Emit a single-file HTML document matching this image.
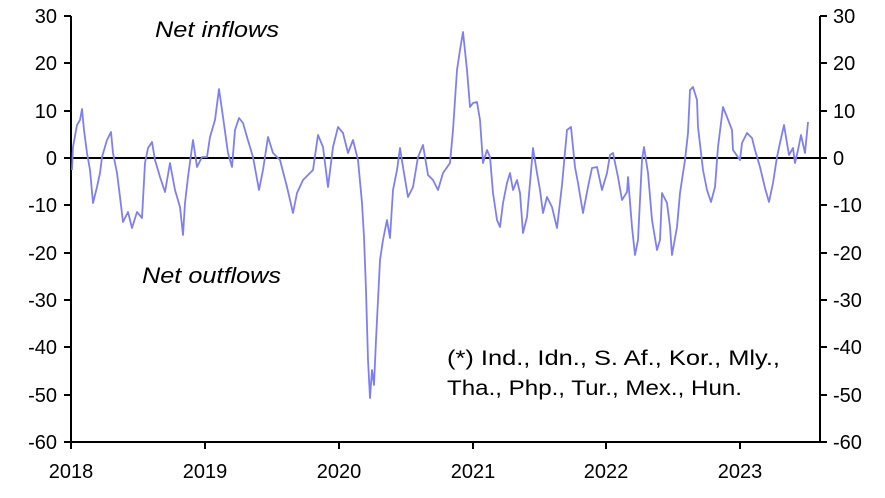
<!DOCTYPE html>
<html><head><style>
body{margin:0;background:#fff;}
svg{display:block;font-family:"Liberation Sans",Arial,sans-serif;}
</style></head><body>
<svg width="885" height="498" viewBox="0 0 885 498">
<g stroke="#000" stroke-width="2" fill="none">
<line x1="71" y1="16" x2="71" y2="442"/>
<line x1="820" y1="16" x2="820" y2="442"/>
<line x1="70" y1="442" x2="821" y2="442"/>
<line x1="71" y1="158" x2="820" y2="158"/>
<path d="M64 16H71M64 63H71M64 111H71M64 158H71M64 205H71M64 253H71M64 300H71M64 347H71M64 395H71M64 442H71"/>
<path d="M820 16H827M820 63H827M820 111H827M820 158H827M820 205H827M820 253H827M820 300H827M820 347H827M820 395H827M820 442H827"/>
<path d="M71 442V449M205 442V449M339 442V449M473 442V449M606 442V449M740 442V449"/>
</g>
<polyline fill="none" stroke="#7f7ff5" stroke-width="1.8" stroke-linejoin="round" points="72,170 73,147 77,125 80,120 82,109 84,130 87,153 90,170 93,203 97,187 100,173 102,157 107,140 111,132 113,153 117,173 120,197 123,222 128,212 132,228 137,212 142,218 145,163 148,148 152,142 155,160 160,177 165,192 170,163 175,190 180,207 183,235 185,203 188,177 193,140 197,167 202,157 207,157 210,137 215,120 219,89 223,117 228,153 232,167 235,130 239,118 243,123 247,137 253,157 259,190 263,170 268,137 273,153 280,160 287,187 293,213 297,193 303,180 313,170 318,135 323,147 328,187 333,147 338,127 343,133 348,153 353,140 358,160 362,203 364,237 366,290 368,360 370,398 372,370 374,385 376,340 378,300 380,260 383,240 387,220 390,238 393,190 397,170 400,148 403,167 408,197 413,187 418,157 423,145 428,175 433,180 438,190 443,173 450,163 453,130 457,70 460,50 463,32 467,70 470,107 473,103 477,102 480,120 483,163 487,150 490,157 493,193 497,220 500,227 503,203 507,183 510,173 513,190 517,180 520,193 523,233 527,217 530,183 533,148 537,173 540,190 543,213 547,197 552,207 557,228 562,185 567,130 571,127 575,167 578,183 583,213 588,187 592,168 597,167 602,190 607,173 610,155 613,153 618,177 622,200 627,192 628,177 632,227 635,255 638,240 642,160 644,147 648,173 652,220 657,250 660,240 662,193 667,203 670,227 672,255 677,227 680,193 685,160 688,133 690,90 693,87 697,100 698,127 703,170 707,190 711,202 715,187 718,147 723,107 727,117 732,130 733,150 740,160 742,143 747,133 752,138 755,150 760,167 765,188 769,202 773,183 777,157 780,143 784,125 787,143 789,155 793,148 795,163 798,150 801,135 805,153 808,122"/>
<g font-size="20" fill="#000" text-anchor="end">
<text x="57" y="23">30</text><text x="57" y="70">20</text><text x="57" y="118">10</text><text x="57" y="165">0</text><text x="57" y="212">-10</text><text x="57" y="260">-20</text><text x="57" y="307">-30</text><text x="57" y="354">-40</text><text x="57" y="402">-50</text><text x="57" y="449">-60</text>
</g>
<g font-size="20" fill="#000" text-anchor="start">
<text x="833" y="23">30</text><text x="833" y="70">20</text><text x="833" y="118">10</text><text x="833" y="165">0</text><text x="833" y="212">-10</text><text x="833" y="260">-20</text><text x="833" y="307">-30</text><text x="833" y="354">-40</text><text x="833" y="402">-50</text><text x="833" y="449">-60</text>
</g>
<g font-size="20" fill="#000" text-anchor="middle">
<text x="71" y="478">2018</text><text x="205" y="478">2019</text><text x="339" y="478">2020</text><text x="473" y="478">2021</text><text x="606" y="478">2022</text><text x="740" y="478">2023</text>
</g>
<text x="155" y="37" font-size="22" font-style="italic" textLength="124" lengthAdjust="spacingAndGlyphs">Net inflows</text>
<text x="142" y="283" font-size="22" font-style="italic" textLength="139" lengthAdjust="spacingAndGlyphs">Net outflows</text>
<text x="447" y="365" font-size="21" textLength="333" lengthAdjust="spacingAndGlyphs">(*) Ind., Idn., S. Af., Kor., Mly.,</text>
<text x="447" y="395" font-size="21" textLength="295" lengthAdjust="spacingAndGlyphs">Tha., Php., Tur., Mex., Hun.</text>
</svg>
</body></html>
